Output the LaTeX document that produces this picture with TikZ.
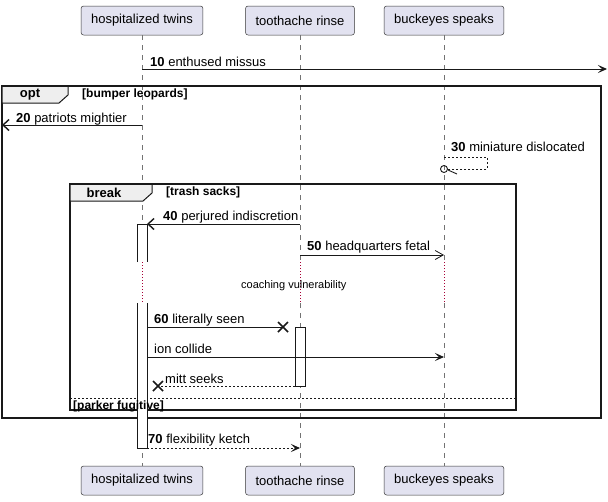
\documentclass[tikz,border=0pt]{standalone}
\usepackage{fontspec}
\setmainfont{Liberation Sans}
\usetikzlibrary{arrows.meta,positioning}
\definecolor{partfill}{HTML}{E2E2F0}
\definecolor{tabfill}{HTML}{EEEEEE}
\definecolor{delayred}{HTML}{A80036}

\begin{document}
\begin{tikzpicture}[
        x=1pt, y=-1pt,
        part/.style={
          draw=black!80,
          line width=0.5pt,
          fill=partfill,
          rounded corners=2.5pt,
          font=\fontsize{13}{15}\selectfont,
          inner xsep=10pt,
          minimum height=29pt
          },
        life/.style={
          draw=black!55,
          line width=0.5pt,
          dash pattern=on 5pt off 5pt
          },
        delay/.style={
          draw=delayred,
          line width=0.6pt,
          dash pattern=on 1pt off 2pt
          },
        lbl/.style={
          anchor=base west,
          inner sep=0pt,
          font=\fontsize{13}{15}\selectfont
          },
        msg/.style={
          draw=black!90,
          line width=0.9pt
          },
        ret/.style={
          msg,
          dash pattern=on 2pt off 2pt
          },
        fragbox/.style={
          draw=black!90,
          line width=1.5pt
          },
        fragtab/.style={
          fill=tabfill,
          draw=black!90,
          line width=1pt
          },
        fragkw/.style={
          inner sep=0pt,
          font=\bfseries\fontsize{13}{15}\selectfont
          },
        guard/.style={
          anchor=base west,
          inner sep=0pt,
          font=\bfseries\fontsize{12}{14}\selectfont
          },
        act/.style={
          draw=black!90,
          fill=white,
          line width=0.9pt
          },
        xmark/.style={
          draw=black!90,
          line width=1.6pt
          },
        openhead/.style={
          -{Straight Barb[length=6pt,width=11pt,line width=1.4pt]}
          },
        thinhead/.style={
          -{Straight Barb[length=8pt,width=9pt,line width=0.8pt]}
          },
        >={Stealth[length=9pt,width=8pt,inset=4pt]}
        ]
        \useasboundingbox (0,0) rectangle (608,501);
        \fill[white] (0,0) rectangle (608,501);

        \foreach \pid/\px/\pname in {ht/142/hospitalized twins,tr/300/toothache rinse,bs/444/buckeyes speaks}
        {
          \node[part] (\pid-top) at (\px,20.5) {\pname};
          \node[part] (\pid-bot) at (\px,480.5) {\pname};
        }
        \foreach \pid in {ht,tr,bs}
        {
          \draw[life] (\pid-top.south) -- (\pid-top.south |- 0,262);
          \draw[delay] (\pid-top.south |- 0,262) -- (\pid-top.south |- 0,303);
          \draw[life] (\pid-top.south |- 0,303) -- (\pid-bot.north);
        }

        % opt fragment
        \draw[fragbox] (2,86) rectangle (601,418);
        \draw[fragtab] (2,86) -- (68,86) -- (68,95) -- (59,103) -- (2,103) -- cycle;
        \draw[fragbox] (2,86) -- (601,86);
        \node[fragkw] (opt) at (30,95) {opt};
        \node[guard] (opt-guard) at (82,97) {[bumper leopards]};

        % break fragment
        \draw[fragbox] (70,184) rectangle (516,410);
        \draw[fragtab] (70,184) -- (152,184) -- (152,193) -- (143,201) -- (70,201) -- cycle;
        \draw[fragbox] (70,184) -- (516,184);
        \node[fragkw] (brk) at (104,193) {break};
        \node[guard] (brk-guard) at (166,195) {[trash sacks]};
        \draw[ret,line width=0.7pt] (70,398) -- (516,398);

        % activations
        \draw[act] (137,262) -- (137,224) -- (147,224) -- (147,262);
        \draw[act] (137,303) -- (137,448) -- (147,448) -- (147,303);
        \node[act, minimum width=10pt, minimum height=59pt, inner sep=0pt] (tr-act) at (300,356.5) {};
        \coordinate (ht-act) at (147,0);
        \coordinate (edge-r) at (607,69);
        \coordinate (edge-l) at (2,125);

        \node[guard] (brk-else) at (73,409) {[parker fugitive]};
        \node[lbl] (delay-txt) at (241,288) {\fontsize{11}{13}\selectfont coaching vulnerability};

        % messages
        \draw[msg,->] (ht-top |- edge-r) -- (edge-r);
        \node[lbl] (m10) at (150,66) {\textbf{10} enthused missus};

        \draw[msg,openhead] (ht-top |- edge-l) -- (edge-l);
        \node[lbl] (m20) at (16,122) {\textbf{20} patriots mightier};

        \draw[ret] (bs-top |- 0,157) -- (487,157) -- (487,169) -- (448,169);
        \draw[msg] (bs-top |- 0,169) circle (3.5pt);
        \draw[msg] (448,170) -- (457,174);
        \node[lbl] (m30) at (451,151) {\textbf{30} miniature dislocated};

        \draw[msg,openhead] (tr-top |- 0,224) -- (ht-act |- 0,224);
        \node[lbl] (m40) at (163,220) {\textbf{40} perjured indiscretion};

        \draw[msg,thinhead] (tr-top |- 0,255) -- (bs-top |- 0,255);
        \node[lbl] (m50) at (307,250) {\textbf{50} headquarters fetal};

        \draw[msg] (ht-act |- 0,327) -- (283,327);
        \draw[xmark] (278,322) -- (288,332) (278,332) -- (288,322);
        \node[lbl] (m60) at (154,323) {\textbf{60} literally seen};

        \draw[msg,->] (ht-act |- 0,357) -- (bs-top |- 0,357);
        \node[lbl] (m-ion) at (154,353) {ion collide};

        \draw[ret] (tr-act.west |- 0,386) -- (158,386);
        \draw[xmark] (153,381) -- (163,391) (153,391) -- (163,381);
        \node[lbl] (m-mitt) at (165,383) {mitt seeks};

        \draw[ret,->] (ht-act |- 0,448) -- (tr-top |- 0,448);
        \node[lbl] (m70) at (148,443) {\textbf{70} flexibility ketch};
\end{tikzpicture}
\end{document}
